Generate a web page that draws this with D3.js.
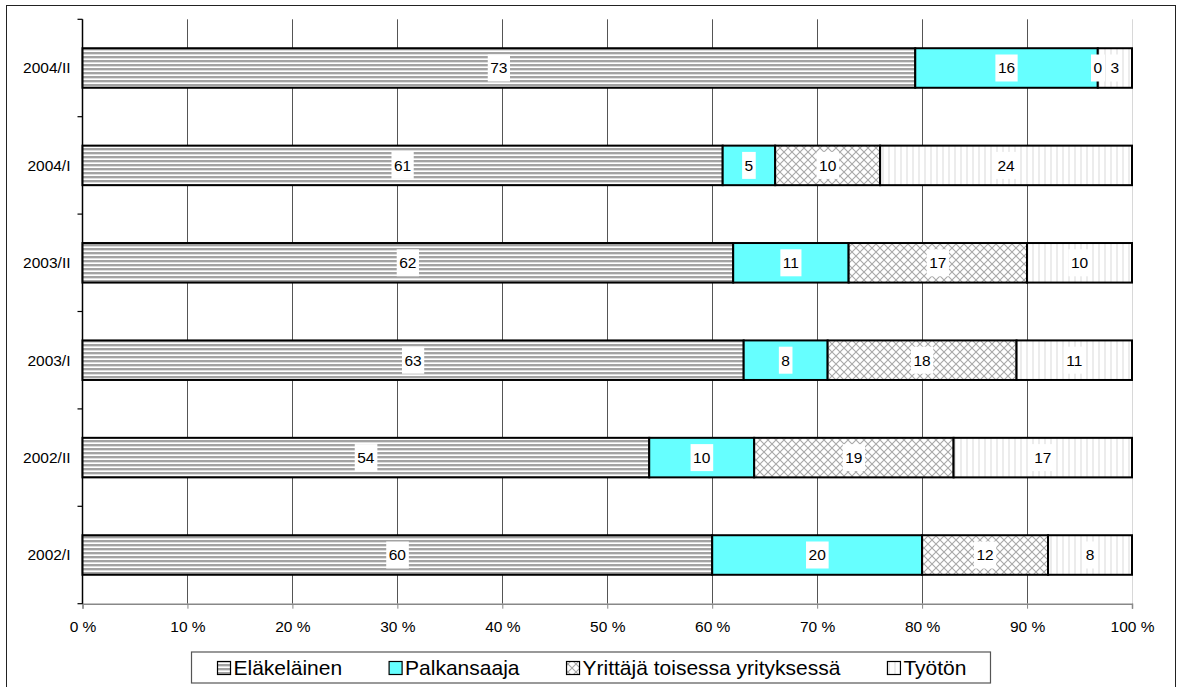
<!DOCTYPE html>
<html>
<head>
<meta charset="utf-8">
<script src="https://cdn.jsdelivr.net/npm/d3@7"></script>
<style>
  html, body { margin: 0; padding: 0; background: #fff; }
  svg { display: block; font-family: "Liberation Sans", Arial, sans-serif; }
</style>
</head>
<body>
<svg id="chart" width="1183" height="687"></svg>
<script>
// ---- data ----
const categories = ["2004/II", "2004/I", "2003/II", "2003/I", "2002/II", "2002/I"];
const seriesNames = ["Eläkeläinen", "Palkansaaja", "Yrittäjä toisessa yrityksessä", "Työtön"];
const elakelainen = [73, 61, 62, 63, 54, 60];
const palkansaaja = [16, 5, 11, 8, 10, 20];
const yrittaja    = [0, 10, 17, 18, 19, 12];
const tyoton      = [3, 24, 10, 11, 17, 8];
const xTickValues = [0, 0.1, 0.2, 0.3, 0.4, 0.5, 0.6, 0.7, 0.8, 0.9, 1.0];

const seriesValues = [elakelainen, palkansaaja, yrittaja, tyoton];
const fills = ["url(#pHoriz)", "#66ffff", "url(#pCross)", "url(#pVert)"];

const svg = d3.select("#chart");
const W = 1183, H = 687;
const plot = { left: 82.5, right: 1132, top: 19.3, bottom: 603.7 };

// ---- patterns ----
const defs = svg.append("defs");
const ph = defs.append("pattern").attr("id", "pHoriz").attr("patternUnits", "userSpaceOnUse")
  .attr("width", 8).attr("height", 4);
ph.append("rect").attr("width", 8).attr("height", 4).attr("fill", "#fff");
ph.append("rect").attr("y", 0).attr("width", 8).attr("height", 2).attr("fill", "#a3a3a3");
ph.append("rect").attr("y", 2).attr("width", 8).attr("height", 1).attr("fill", "#dedede");

const pv = defs.append("pattern").attr("id", "pVert").attr("patternUnits", "userSpaceOnUse")
  .attr("width", 6).attr("height", 8);
pv.append("rect").attr("width", 6).attr("height", 8).attr("fill", "#fff");
pv.append("rect").attr("x", 0).attr("width", 2).attr("height", 8).attr("fill", "#ececec");

const pc = defs.append("pattern").attr("id", "pCross").attr("patternUnits", "userSpaceOnUse")
  .attr("width", 8).attr("height", 8);
pc.append("rect").attr("width", 8).attr("height", 8).attr("fill", "#fff");
pc.append("path").attr("d", "M0,0L8,8M8,0L0,8").attr("stroke", "#a8a8a8").attr("stroke-width", 1.1).attr("fill", "none");

// ---- outer border ----
svg.append("rect").attr("x", 6.5).attr("y", 5.5).attr("width", 1169).attr("height", 700)
  .attr("fill", "none").attr("stroke", "#222").attr("stroke-width", 1);

// ---- scales ----
const x = d3.scaleLinear().domain([0, 1]).range([plot.left, plot.right]);
const pad = 0.594;
const y = d3.scaleBand().domain(categories).range([plot.top, plot.bottom])
  .paddingInner(pad).paddingOuter(pad / 2);

// ---- gridlines ----
svg.append("g").selectAll("line").data(xTickValues.filter(d => d > 0)).join("line")
  .attr("x1", d => Math.round(x(d)) + 0.5).attr("x2", d => Math.round(x(d)) + 0.5)
  .attr("y1", plot.top).attr("y2", plot.bottom)
  .attr("stroke", d => d >= 1 ? "#d8d8d8" : "#555").attr("stroke-width", 1);

// ---- x axis ----
const xAxis = svg.append("g").attr("transform", `translate(0,${plot.bottom})`)
  .call(d3.axisBottom(x).tickValues(xTickValues).tickSize(5).tickPadding(12)
    .tickFormat(d => Math.round(d * 100) + " %"));
xAxis.select(".domain").attr("stroke", "#888").attr("stroke-width", 1.5);
xAxis.selectAll(".tick line").attr("stroke", "#888");
xAxis.selectAll("text").attr("font-size", 15.5).attr("fill", "#000")
  .attr("font-family", "Liberation Sans, Arial, sans-serif");

// ---- y axis ----
const boundaries = d3.range(categories.length + 1).map(i => y.range()[0] + i * y.step());
const yAxisG = svg.append("g");
yAxisG.append("line").attr("x1", plot.left).attr("x2", plot.left)
  .attr("y1", plot.top).attr("y2", plot.bottom).attr("stroke", "#000").attr("stroke-width", 1.5);
yAxisG.selectAll(".bt").data(boundaries).join("line").attr("class", "bt")
  .attr("x1", plot.left - 5).attr("x2", plot.left)
  .attr("y1", d => d).attr("y2", d => d).attr("stroke", "#000").attr("stroke-width", 1.2);
yAxisG.selectAll("text").data(categories).join("text")
  .attr("x", plot.left - 12).attr("y", d => y(d) + y.bandwidth() / 2)
  .attr("dy", "0.35em").attr("text-anchor", "end").attr("font-size", 15.5).attr("fill", "#000")
  .text(d => d);

// ---- stacked data (normalized to 100 %) ----
const rows = categories.map((c, i) => {
  const vals = seriesValues.map(s => s[i]);
  const total = d3.sum(vals);
  let acc = 0;
  return vals.map((v, k) => {
    const seg = { cat: c, k, v, x0: acc / total, x1: (acc + v) / total };
    acc += v;
    return seg;
  });
});
const segs = rows.flat();

// bars
svg.append("g").selectAll("rect").data(segs.filter(s => s.v > 0)).join("rect")
  .attr("x", s => x(s.x0)).attr("width", s => x(s.x1) - x(s.x0))
  .attr("y", s => y(s.cat)).attr("height", y.bandwidth())
  .attr("fill", s => fills[s.k]).attr("stroke", "#000").attr("stroke-width", 2);

// labels
const lg = svg.append("g");
segs.forEach(s => {
  const cx = (x(s.x0) + x(s.x1)) / 2;
  const cy = y(s.cat) + y.bandwidth() / 2;
  const t = lg.append("text").attr("x", cx).attr("y", cy).attr("dy", "0.35em")
    .attr("text-anchor", "middle").attr("font-size", 15.5).attr("fill", "#000").text(s.v);
  const bb = t.node().getBBox();
  lg.insert("rect", () => t.node())
    .attr("x", bb.x - 2.5).attr("y", cy - 13.5).attr("width", bb.width + 5).attr("height", 27)
    .attr("fill", "#fff");
});

// ---- legend ----
const legend = svg.append("g");
const legFont = 21, symSize = 13, symGap = 3, itemGap = 47, boxPadL = 26, boxPadR = 24;
const tmp = legend.append("g");
const widths = seriesNames.map(n => {
  const t = tmp.append("text").attr("font-size", legFont).text(n);
  const w = t.node().getComputedTextLength();
  t.remove();
  return w;
});
tmp.remove();
const contentW = d3.sum(widths) + seriesNames.length * (symSize + symGap) + (seriesNames.length - 1) * itemGap;
const boxW = contentW + boxPadL + boxPadR;
const boxX = 591 - boxW / 2;
legend.append("rect").attr("x", boxX).attr("y", 652).attr("width", boxW).attr("height", 31)
  .attr("fill", "#fff").attr("stroke", "#555").attr("stroke-width", 1.2);
let cx = boxX + boxPadL;
seriesNames.forEach((n, k) => {
  legend.append("rect").attr("x", cx).attr("y", 661.5).attr("width", symSize).attr("height", symSize)
    .attr("fill", fills[k]).attr("stroke", "#000").attr("stroke-width", 1.2);
  legend.append("text").attr("x", cx + symSize + symGap).attr("y", 675)
    .attr("font-size", legFont).attr("fill", "#000").text(n);
  cx += symSize + symGap + widths[k] + itemGap;
});
</script>
</body>
</html>
